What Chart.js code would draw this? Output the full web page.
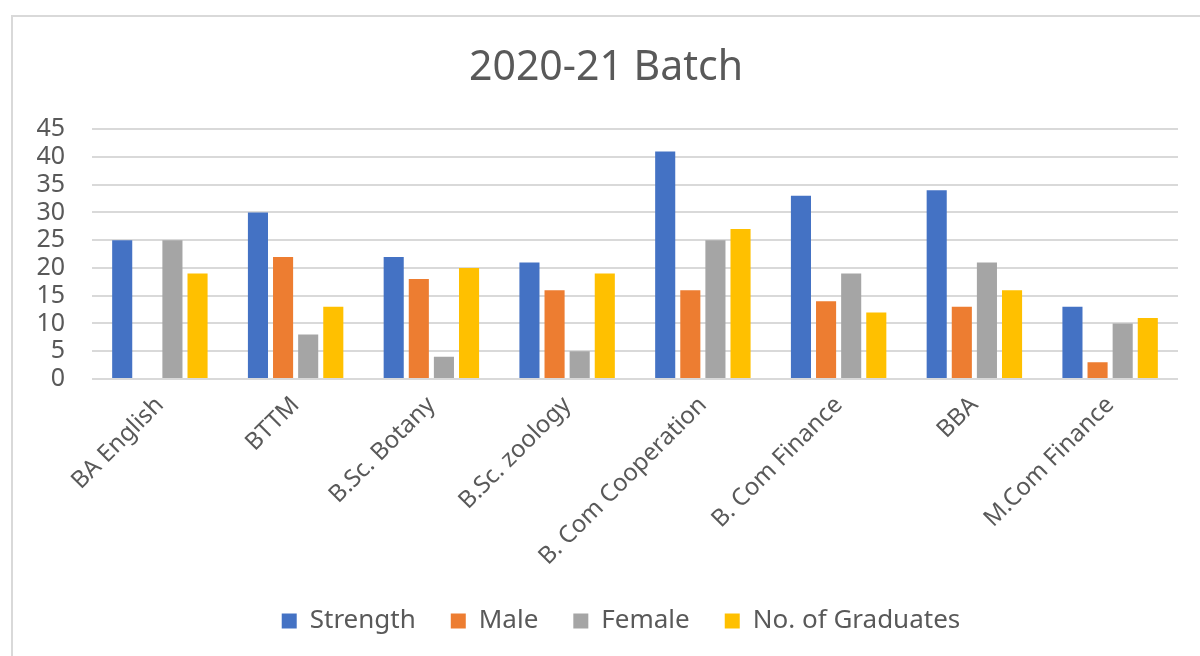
<!DOCTYPE html>
<html>
<head>
<meta charset="utf-8">
<script src="https://cdn.jsdelivr.net/npm/chart.js@4"></script>
<style>
  html, body { margin: 0; padding: 0; background: #fff; }
  #wrap { width: 1200px; height: 656px; position: relative; }
</style>
</head>
<body>
<div id="wrap"><canvas id="batchChart" width="1200" height="656"></canvas></div>
<script>
// 2020-21 Batch — grouped bars per course

const courses = ["BA English", "BTTM", "B.Sc. Botany", "B.Sc. zoology",
  "B. Com Cooperation", "B. Com Finance", "BBA", "M.Com Finance"];
const strength  = [25, 30, 22, 21, 41, 33, 34, 13];
const male      = [0, 22, 18, 16, 16, 14, 13, 3];
const female    = [25, 8, 4, 5, 25, 19, 21, 10];
const graduates = [19, 13, 20, 19, 27, 12, 16, 11];
const yTicks    = [0, 5, 10, 15, 20, 25, 30, 35, 40, 45];

const textGrey = "#595959";
const font = "'Noto Sans', 'Open Sans', sans-serif";

// light grey frame on the left and top, like the exported Excel chart
const framePlugin = {
  id: "frame",
  beforeDraw(chart) {
    const c = chart.ctx;
    c.save();
    c.strokeStyle = "#d9d9d9";
    c.lineWidth = 2;
    c.beginPath();
    c.moveTo(12, 656);
    c.lineTo(12, 16);
    c.lineTo(1200, 16);
    c.stroke();
    c.restore();
  }
};

// keep wide item spacing without the legend eating vertical space,
// and nudge it a bit right to sit where Excel put it
const legendTweak = {
  id: "legendTweak",
  beforeInit(chart) {
    const fit = chart.legend.fit;
    chart.legend.fit = function () {
      fit.bind(chart.legend)();
      this.height = 83;
    };
  },
  afterLayout(chart) {
    chart.legend.left += 15;
    chart.legend.right += 15;
  }
};

const ctx = document.getElementById("batchChart").getContext("2d");

new Chart(ctx, {
  type: "bar",
  data: {
    labels: courses,
    datasets: [
      { label: "Strength", data: strength, backgroundColor: "#4472C4" },
      { label: "Male", data: male, backgroundColor: "#ED7D31" },
      { label: "Female", data: female, backgroundColor: "#A5A5A5" },
      { label: "No. of Graduates", data: graduates, backgroundColor: "#FFC000" }
    ]
  },
  options: {
    responsive: false,
    animation: false,
    layout: { padding: { left: 34, right: 22, top: 0, bottom: 0 } },
    datasets: {
      bar: { barPercentage: 0.8, categoryPercentage: 0.74 }
    },
    plugins: {
      title: {
        display: true,
        text: "2020-21 Batch",
        color: textGrey,
        font: { family: font, size: 41, weight: "normal" },
        padding: { top: 44, bottom: 36 }
      },
      legend: {
        position: "bottom",
        labels: {
          color: textGrey,
          font: { family: font, size: 26 },
          boxWidth: 15,
          boxHeight: 15,
          padding: 35
        }
      },
      tooltip: { enabled: false }
    },
    scales: {
      x: {
        grid: { display: false },
        border: { display: false },
        afterFit(axis) {
          axis.paddingLeft = 0;
          axis.height = 194;
        },
        ticks: {
          color: textGrey,
          font: { family: font, size: 24 },
          minRotation: 45,
          maxRotation: 45,
          padding: 4
        }
      },
      y: {
        min: 0,
        max: 45,
        afterBuildTicks(axis) {
          axis.ticks = yTicks.map(v => ({ value: v }));
        },
        afterFit(axis) {
          axis.width = 58;
        },
        grid: { color: "#d9d9d9", lineWidth: 2, drawTicks: false },
        border: { display: false },
        ticks: {
          color: textGrey,
          font: { family: font, size: 25 },
          padding: 27,
          autoSkip: false
        }
      }
    }
  },
  plugins: [framePlugin, legendTweak]
});
</script>
</body>
</html>
